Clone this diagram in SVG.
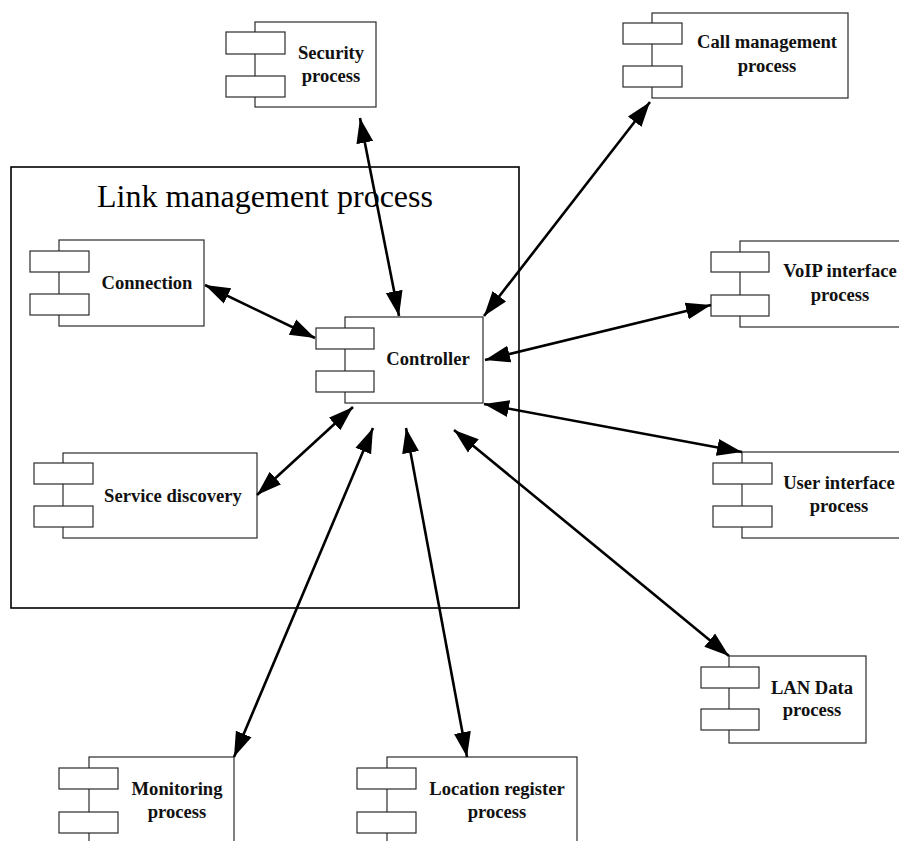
<svg xmlns="http://www.w3.org/2000/svg" width="899" height="841" viewBox="0 0 899 841">
  <style>
    .box { fill: #ffffff; stroke: #2b2b2b; stroke-width: 1.2; }
    .port { fill: #ffffff; stroke: #2b2b2b; stroke-width: 1.2; }
    .frame { fill: #ffffff; stroke: #000000; stroke-width: 1.6; }
    .lbl { font-family: "Liberation Serif", "Times New Roman", serif; font-weight: bold; font-size: 18.6px; fill: #111111; text-anchor: middle; }
    .title { font-family: "Liberation Serif", "Times New Roman", serif; font-size: 32px; fill: #000000; text-anchor: middle; }
    .link { stroke: #000000; stroke-width: 2.6; fill: none; marker-start: url(#ah); marker-end: url(#ah); }
  </style>
  <defs>
    <!-- filled arrowhead used at both ends of every connector -->
    <marker id="ah" markerUnits="userSpaceOnUse" markerWidth="26" markerHeight="20" viewBox="0 0 26 20" refX="25" refY="10" orient="auto-start-reverse">
      <path d="M0,1.5 L25,10 L0,18.5 z" fill="#000000"/>
    </marker>
  </defs>

  <rect width="899" height="841" fill="#ffffff"/>

  <!-- container -->
  <g id="link-management">
    <rect class="frame" x="11" y="167" width="508" height="441"/>
    <text class="title" x="265" y="207">Link management process</text>
  </g>

  <!-- components -->
  <g id="security">
    <rect class="box" x="255" y="22" width="121" height="85"/>
    <rect class="port" x="226" y="32" width="59" height="22"/>
    <rect class="port" x="226" y="76" width="59" height="21"/>
    <text class="lbl" x="331" y="59">Security</text>
    <text class="lbl" x="331" y="82">process</text>
  </g>

  <g id="call-management">
    <rect class="box" x="652" y="13" width="196" height="85"/>
    <rect class="port" x="623" y="23" width="59" height="21"/>
    <rect class="port" x="623" y="66" width="59" height="21"/>
    <text class="lbl" x="767" y="48">Call management</text>
    <text class="lbl" x="767" y="72">process</text>
  </g>

  <g id="voip-interface">
    <rect class="box" x="740" y="241" width="175" height="86"/>
    <rect class="port" x="711" y="252" width="58" height="20"/>
    <rect class="port" x="711" y="295" width="58" height="21"/>
    <text class="lbl" x="840" y="277">VoIP interface</text>
    <text class="lbl" x="840" y="301">process</text>
  </g>

  <g id="user-interface">
    <rect class="box" x="742" y="452" width="175" height="86"/>
    <rect class="port" x="713" y="463" width="59" height="21"/>
    <rect class="port" x="713" y="506" width="59" height="21"/>
    <text class="lbl" x="839" y="489">User interface</text>
    <text class="lbl" x="839" y="512">process</text>
  </g>

  <g id="lan-data">
    <rect class="box" x="729" y="656" width="137" height="87"/>
    <rect class="port" x="701" y="667" width="58" height="21"/>
    <rect class="port" x="701" y="709" width="58" height="21"/>
    <text class="lbl" x="812" y="694">LAN Data</text>
    <text class="lbl" x="812" y="716">process</text>
  </g>

  <g id="monitoring">
    <rect class="box" x="89" y="757" width="145" height="100"/>
    <rect class="port" x="59" y="768" width="59" height="21"/>
    <rect class="port" x="59" y="812" width="59" height="21"/>
    <text class="lbl" x="177" y="795">Monitoring</text>
    <text class="lbl" x="177" y="818">process</text>
  </g>

  <g id="location-register">
    <rect class="box" x="387" y="757" width="190" height="100"/>
    <rect class="port" x="357" y="768" width="59" height="21"/>
    <rect class="port" x="357" y="812" width="59" height="21"/>
    <text class="lbl" x="497" y="795">Location register</text>
    <text class="lbl" x="497" y="818">process</text>
  </g>

  <g id="connection">
    <rect class="box" x="59" y="240" width="145" height="86"/>
    <rect class="port" x="30" y="251" width="59" height="21"/>
    <rect class="port" x="30" y="294" width="59" height="21"/>
    <text class="lbl" x="147" y="289">Connection</text>
  </g>

  <g id="service-discovery">
    <rect class="box" x="63" y="453" width="194" height="85"/>
    <rect class="port" x="34" y="463" width="59" height="21"/>
    <rect class="port" x="34" y="506" width="59" height="21"/>
    <text class="lbl" x="173" y="502">Service discovery</text>
  </g>

  <g id="controller">
    <rect class="box" x="345" y="317" width="138" height="86"/>
    <rect class="port" x="316" y="328" width="58" height="21"/>
    <rect class="port" x="316" y="371" width="58" height="21"/>
    <text class="lbl" x="428" y="365">Controller</text>
  </g>

  <!-- connectors -->
  <g id="connectors">
    <line class="link" x1="360" y1="118" x2="399" y2="316"/>
    <line class="link" x1="650" y1="102" x2="484" y2="316"/>
    <line class="link" x1="711" y1="305" x2="485" y2="360"/>
    <line class="link" x1="742" y1="452" x2="484" y2="404"/>
    <line class="link" x1="729" y1="656" x2="454" y2="430"/>
    <line class="link" x1="467" y1="757" x2="406" y2="428"/>
    <line class="link" x1="234" y1="757" x2="373" y2="428"/>
    <line class="link" x1="257" y1="495" x2="353" y2="407"/>
    <line class="link" x1="205" y1="285" x2="315" y2="338"/>
  </g>
</svg>
